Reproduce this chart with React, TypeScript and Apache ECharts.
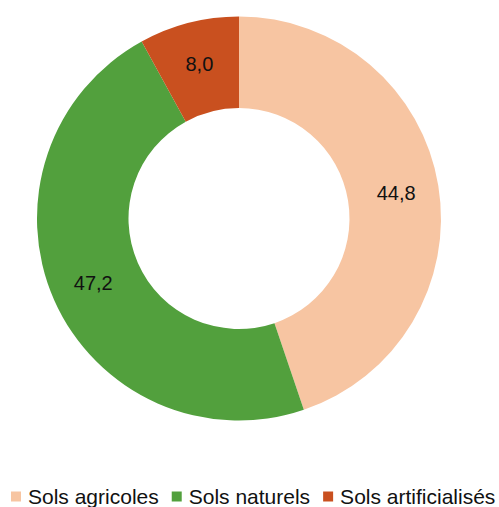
import React, { useEffect, useRef } from "react";
import * as echarts from "echarts";

const categories = ["Sols agricoles", "Sols naturels", "Sols artificialisés"];
const values = [44.8, 47.2, 8.0];
const colors = ["#F7C5A2", "#52A03D", "#C9501F"];

export default function App() {
  const ref = useRef<HTMLDivElement>(null);
  useEffect(() => {
    if (!ref.current) return;
    const chart = echarts.init(ref.current, undefined, { renderer: "svg" });
    chart.setOption({
      animation: false,
      backgroundColor: "#ffffff",
      textStyle: { fontFamily: "'Liberation Sans', Arial, sans-serif" },
      legend: {
        data: categories,
        left: 11,
        top: 486,
        width: 520,
        padding: 0,
        itemWidth: 10,
        itemHeight: 10,
        itemGap: 13,
        icon: "rect",
        textStyle: {
          fontSize: 21,
          color: "#111111",
          padding: [0, 0, 0, 2],
          fontFamily: "'Liberation Sans', Arial, sans-serif",
        },
      },
      series: [
        {
          type: "pie",
          center: [239, 218.5],
          radius: [110.5, 202],
          startAngle: 90,
          clockwise: true,
          avoidLabelOverlap: false,
          label: {
            show: true,
            position: "inside",
            fontSize: 20,
            color: "#111111",
            fontFamily: "'Liberation Sans', Arial, sans-serif",
            formatter: (p: any) => p.value.toFixed(1).replace(".", ","),
          },
          labelLine: { show: false },
          emphasis: { disabled: true },
          data: categories.map((c, i) => ({
            name: c,
            value: values[i],
            itemStyle: { color: colors[i] },
          })),
        },
      ],
    });
    return () => chart.dispose();
  }, []);
  return (
    <div
      ref={ref}
      style={{ position: "fixed", left: 0, top: 0, width: 499, height: 507 }}
    />
  );
}
